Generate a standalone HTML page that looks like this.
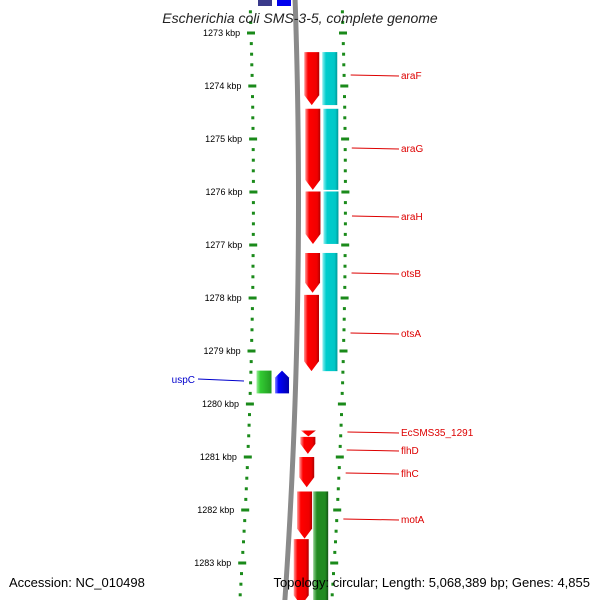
<!DOCTYPE html>
<html><head><meta charset="utf-8"><style>
body{margin:0;background:#fff}
svg{display:block;font-family:"Liberation Sans","DejaVu Sans",sans-serif}
</style></head><body>
<svg id="chart" width="600" height="600" viewBox="0 0 600 600">
<defs>
<linearGradient id="gRed" x1="0" x2="1"><stop offset="0" stop-color="#ff9a9a"/><stop offset="0.25" stop-color="#ff0000"/><stop offset="0.8" stop-color="#f00000"/><stop offset="1" stop-color="#b00000"/></linearGradient>
<linearGradient id="gCyan" x1="0" x2="1"><stop offset="0" stop-color="#8ff0f0"/><stop offset="0.25" stop-color="#00cccc"/><stop offset="0.8" stop-color="#00c8c8"/><stop offset="1" stop-color="#009999"/></linearGradient>
<linearGradient id="gGreen" x1="0" x2="1"><stop offset="0" stop-color="#8fd08f"/><stop offset="0.25" stop-color="#228b22"/><stop offset="0.8" stop-color="#228b22"/><stop offset="1" stop-color="#145214"/></linearGradient>
<linearGradient id="gLime" x1="0" x2="1"><stop offset="0" stop-color="#99ee99"/><stop offset="0.25" stop-color="#33cc33"/><stop offset="1" stop-color="#229922"/></linearGradient>
<linearGradient id="gBlue" x1="0" x2="1"><stop offset="0" stop-color="#8888ff"/><stop offset="0.25" stop-color="#0000ff"/><stop offset="1" stop-color="#0000aa"/></linearGradient>
<linearGradient id="gGray" x1="0" x2="1"><stop offset="0" stop-color="#ccc"/><stop offset="0.5" stop-color="#888"/><stop offset="1" stop-color="#666"/></linearGradient>
</defs>
<g id="layer"></g>
<text x="300" y="23" text-anchor="middle" font-size="14" font-style="italic" fill="#222">Escherichia coli SMS-3-5, complete genome</text>
<text x="9" y="587" font-size="13" fill="#000">Accession: NC_010498</text>
<text x="590" y="587" text-anchor="end" font-size="13" fill="#000">Topology: circular; Length: 5,068,389 bp; Genes: 4,855</text>
</svg>
<script>
const tickKbp = [1273,1274,1275,1276,1277,1278,1279,1280,1281,1282,1283];
const tickLabels = ["1273 kbp","1274 kbp","1275 kbp","1276 kbp","1277 kbp","1278 kbp","1279 kbp","1280 kbp","1281 kbp","1282 kbp","1283 kbp"];
const geneNames = ["araF","araG","araH","otsB","otsA","EcSMS35_1291","flhD","flhC","motA","motB"];
const geneStart = [1273.36,1274.43,1275.99,1277.15,1277.94,1280.50,1280.62,1281.00,1281.65,1282.55];
const geneEnd   = [1274.36,1275.96,1276.98,1277.90,1279.38,1280.61,1280.94,1281.57,1282.54,1283.80];
const geneLabelY = [75,148,216,273,333,432,450,473,519,null];
const cdsStart = [1273.36,1274.43,1275.99,1277.15,1281.65];
const cdsEnd   = [1274.36,1275.96,1276.98,1279.38,1283.80];
const revNames = ["uspC"];
const revStart = [1279.37];
const revEnd   = [1279.80];

const yScale = k => 33 + (k - 1273) * 53;
const curve = y => -8.5e-5 * (y - 200) * (y - 200);
const NS = "http://www.w3.org/2000/svg";
const layer = document.getElementById('layer');
function mk(tag, attrs){const e=document.createElementNS(NS,tag);for(const k in attrs)e.setAttribute(k,attrs[k]);layer.appendChild(e);return e;}

// backbone
let d="";
for(let y=-5;y<=605;y+=5){d+=(y===-5?"M":"L")+(298.5+curve(y)).toFixed(2)+" "+y;}
const bb=mk('path',{d:d,stroke:"url(#gGray)","stroke-width":5,fill:"none"});
bb.setAttribute('stroke','#8a8a8a');



// ticks
for(let k=1272.6;k<=1284.01;k+=0.2){
  const y=yScale(k); if(y<0||y>600) continue;
  const major=Math.abs(k-Math.round(k))<0.01;
  [253.4,345.4].forEach((bx,i)=>{
    const x=bx+curve(y);
    const w=major?8:3;
    const r=mk('rect',{x:(x-w/2).toFixed(1),y:(y-1.5).toFixed(1),width:w,height:3,fill:"#1a8a1a"});
    
    
  });
}
tickKbp.forEach((k,i)=>{
  const y=yScale(k);
  const t=mk('text',{x:(242.5+curve(y)).toFixed(1),y:y+3,"text-anchor":"end","font-size":9,fill:"#000"});
  t.textContent=tickLabels[i];
  
  
});

function arrowDown(cx,y0,y1,w,fill,name){
  const head=Math.min(10,(y1-y0));
  const l=cx-w/2,r=cx+w/2;
  const p=`${l},${y0} ${r},${y0} ${r},${y1-head} ${cx},${y1} ${l},${y1-head}`;
  const e=mk('polygon',{points:p,fill:fill});
  
  
}
// genes (forward, red)
geneNames.forEach((n,i)=>{
  const y0=yScale(geneStart[i]),y1=yScale(geneEnd[i]);
  const cx=313+curve((y0+y1)/2);
  arrowDown(cx,y0,y1,15,"url(#gRed)","gene-"+n);
});
// CDS bars
cdsStart.forEach((s,i)=>{
  const y0=yScale(s),y1=yScale(cdsEnd[i]);
  const cx=331+curve((y0+y1)/2);
  const e=mk('rect',{x:cx-7.5,y:y0,width:15,height:y1-y0,fill:i===4?"url(#gGreen)":"url(#gCyan)"});
  
  
});
// reverse uspC
revStart.forEach((s,i)=>{
  const y0=yScale(s),y1=yScale(revEnd[i]);
  const g=mk('rect',{x:259+curve(y0),y:y0,width:15,height:y1-y0,fill:"url(#gLime)"});
  
  
  const cx=284.5+curve(y0);
  const p=`${cx-7},${y0+7} ${cx},${y0} ${cx+7},${y0+7} ${cx+7},${y1} ${cx-7},${y1}`;
  const a=mk('polygon',{points:p,fill:"url(#gBlue)"});
  
  
  const ly=(y0+y1)/2;
  const ln=mk('line',{x1:198,y1:379,x2:244,y2:381,stroke:"#0000cc","stroke-width":1});
  
  
  const t=mk('text',{x:195,y:383,"text-anchor":"end","font-size":10,fill:"#0000cc"});
  t.textContent=revNames[i];
  
  
});
// top partial features
[[258,"#3a3a8a"],[277,"#0000ee"]].forEach(([x,c])=>{
  const e=mk('rect',{x:x,y:0,width:14,height:6,fill:c});
  
  
});
// labels right
geneNames.forEach((n,i)=>{
  if(geneLabelY[i]===null) return;
  const ly=geneLabelY[i];
  const gy=Math.min(Math.max(ly,yScale(geneStart[i])),yScale(geneEnd[i]));
  const ln=mk('line',{x1:352+curve(gy),y1:gy,x2:399,y2:ly+1,stroke:"#dd0000","stroke-width":1});
  
  
  const t=mk('text',{x:401,y:ly+4,"font-size":10,fill:"#dd0000"});
  t.textContent=n;
  
  
});
</script>
</body></html>
